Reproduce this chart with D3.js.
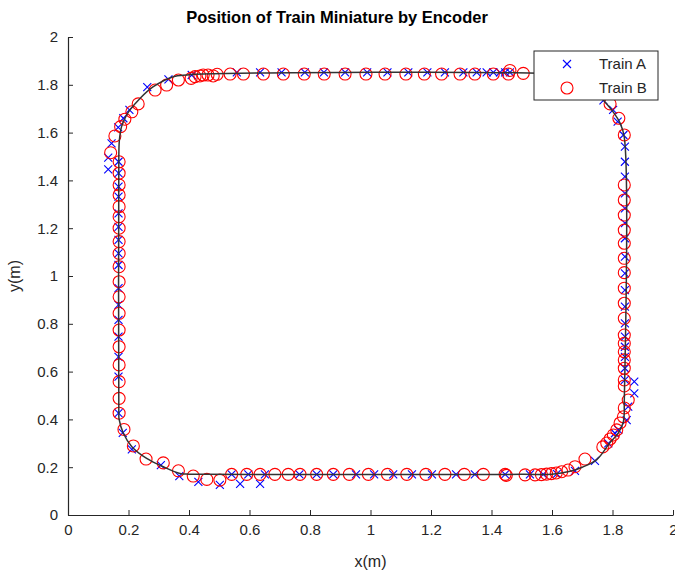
<!DOCTYPE html>
<html>
<head>
<meta charset="utf-8">
<title>Position of Train Miniature by Encoder</title>
<script src="https://d3js.org/d3.v7.min.js"></script>
<style>
  body { margin: 0; background: #fff; }
  svg { font-family: "Liberation Sans", Arial, sans-serif; }
  .axis path, .axis line { stroke: #262626; }
  .axis text { fill: #262626; font-size: 15px; }
</style>
</head>
<body>
<div id="chart"></div>
<script>
// track centre line
const trackX = [0.168, 0.168, 0.170, 0.177, 0.190, 0.205, 0.238, 0.282, 0.348, 0.392, 0.446, 1.60, 1.68, 1.73, 1.77, 1.80, 1.825, 1.839, 1.839, 1.836, 1.82, 1.79, 1.748, 1.70, 1.66, 1.60, 1.50, 0.45, 0.40, 0.37, 0.315, 0.26, 0.211, 0.183, 0.169, 0.168];
const trackY = [0.42, 1.50, 1.57, 1.625, 1.665, 1.695, 1.743, 1.792, 1.834, 1.841, 1.845, 1.845, 1.83, 1.79, 1.735, 1.69, 1.64, 1.58, 0.48, 0.39, 0.345, 0.30, 0.232, 0.200, 0.183, 0.171, 0.170, 0.170, 0.171, 0.174, 0.202, 0.237, 0.286, 0.342, 0.40, 0.42];

// Train A (blue x)
const trainAX = [
  0.167, 0.167, 0.167, 0.167, 0.167, 0.167, 0.167, 0.167, 0.167, 0.167, 0.167, 0.167, 0.167, 0.167, 0.167, 0.167,
  0.133, 0.133, 0.144,
  0.166, 0.183, 0.203, 0.262, 0.332, 0.409,
  0.558, 0.635, 0.706, 0.783, 0.846, 0.916, 0.989, 1.056, 1.125, 1.188, 1.246, 1.307, 1.351, 1.384, 1.406, 1.428, 1.445, 1.461,
  1.770, 1.802, 1.817, 1.836,
  1.841, 1.841, 1.841, 1.841, 1.841, 1.841, 1.841, 1.841, 1.841, 1.841, 1.841, 1.841, 1.841, 1.841, 1.841, 1.841, 1.841,
  1.872, 1.872, 1.852, 1.847,
  1.819, 1.808, 1.786, 1.742, 1.676,
  1.616, 1.571, 1.527, 1.445, 1.345, 1.283, 1.203, 1.137, 1.075, 1.012, 0.952, 0.877, 0.822, 0.765, 0.651, 0.596, 0.541,
  0.635, 0.569, 0.502, 0.431,
  0.368, 0.307, 0.211, 0.181
];
const trainAY = [
  1.478, 1.430, 1.374, 1.332, 1.262, 1.206, 1.151, 1.095, 1.046, 0.949, 0.879, 0.816, 0.746, 0.662, 0.579, 0.426,
  1.495, 1.446, 1.555,
  1.622, 1.660, 1.695, 1.790, 1.823, 1.841,
  1.852, 1.852, 1.852, 1.852, 1.852, 1.852, 1.852, 1.852, 1.852, 1.852, 1.852, 1.852, 1.852, 1.852, 1.852, 1.852, 1.852, 1.852,
  1.735, 1.695, 1.646, 1.590,
  1.541, 1.478, 1.416, 1.346, 1.283, 1.221, 1.158, 1.081, 1.011, 0.941, 0.872, 0.802, 0.746, 0.704, 0.662, 0.614, 0.565,
  0.558, 0.509, 0.453, 0.397,
  0.356, 0.342, 0.300, 0.226, 0.185,
  0.172, 0.170, 0.170, 0.170, 0.170, 0.170, 0.170, 0.170, 0.170, 0.170, 0.170, 0.170, 0.170, 0.170, 0.170, 0.170, 0.170,
  0.130, 0.130, 0.126, 0.139,
  0.163, 0.209, 0.275, 0.344
];

// Train B (red o)
const trainBX = [
  0.169, 0.169, 0.169, 0.169, 0.169, 0.169, 0.169, 0.169, 0.169, 0.169, 0.169, 0.169, 0.169, 0.169, 0.169, 0.169, 0.169, 0.169, 0.169,
  0.141, 0.155, 0.174, 0.188, 0.211, 0.232, 0.288, 0.326, 0.365, 0.407, 0.420, 0.436, 0.447, 0.463, 0.480, 0.493, 0.536, 0.580,
  0.646, 0.712, 0.781, 0.847, 0.916, 0.985, 1.048, 1.117, 1.178, 1.235, 1.296, 1.345, 1.406, 1.456, 1.461, 1.505,
  1.792, 1.821, 1.839,
  1.839, 1.839, 1.839, 1.839, 1.839, 1.839, 1.839, 1.839, 1.839, 1.839, 1.839, 1.839, 1.839, 1.839, 1.839, 1.839, 1.839,
  1.852, 1.839, 1.836, 1.825, 1.814, 1.803, 1.792, 1.781, 1.768, 1.709, 1.676, 1.653, 1.632, 1.614, 1.598, 1.582, 1.565, 1.544, 1.511,
  1.445, 1.449, 1.373, 1.310, 1.246, 1.183, 1.120, 1.056, 0.993, 0.930, 0.877, 0.822, 0.767, 0.728, 0.684, 0.635, 0.591, 0.541,
  0.502, 0.459, 0.414, 0.365, 0.315, 0.258, 0.216, 0.185
];
const trainBY = [
  1.478, 1.430, 1.381, 1.339, 1.290, 1.248, 1.200, 1.144, 1.095, 1.039, 0.976, 0.913, 0.844, 0.774, 0.704, 0.628, 0.558, 0.488, 0.426,
  1.516, 1.586, 1.625, 1.656, 1.687, 1.720, 1.778, 1.799, 1.820, 1.827, 1.834, 1.837, 1.841, 1.841, 1.837, 1.844, 1.845, 1.845,
  1.845, 1.845, 1.845, 1.845, 1.845, 1.845, 1.845, 1.845, 1.845, 1.845, 1.845, 1.845, 1.845, 1.845, 1.860, 1.848,
  1.720, 1.660, 1.590,
  1.381, 1.318, 1.255, 1.192, 1.137, 1.074, 1.014, 0.949, 0.886, 0.823, 0.753, 0.718, 0.683, 0.649, 0.614, 0.565, 0.540,
  0.481, 0.448, 0.411, 0.385, 0.356, 0.335, 0.318, 0.301, 0.285, 0.234, 0.202, 0.188, 0.181, 0.176, 0.173, 0.171, 0.169, 0.168, 0.168,
  0.170, 0.166, 0.170, 0.170, 0.170, 0.170, 0.170, 0.170, 0.170, 0.170, 0.170, 0.170, 0.170, 0.170, 0.170, 0.170, 0.170, 0.170,
  0.146, 0.149, 0.163, 0.185, 0.218, 0.234, 0.289, 0.358
];

const xTicks = [0, 0.2, 0.4, 0.6, 0.8, 1, 1.2, 1.4, 1.6, 1.8, 2];
const yTicks = [0, 0.2, 0.4, 0.6, 0.8, 1, 1.2, 1.4, 1.6, 1.8, 2];
const seriesNames = ["Train A", "Train B"];

const width = 675, height = 573;
const svg = d3.select("#chart").append("svg")
  .attr("width", width)
  .attr("height", height);

const x = d3.scaleLinear().domain([0, 2]).range([68, 673]);
const y = d3.scaleLinear().domain([0, 2]).range([515, 37]);

const fmt = d => d === 0 ? "0" : String(+d.toFixed(1));

svg.append("g")
  .attr("class", "axis")
  .attr("transform", `translate(0,${y(0)})`)
  .call(d3.axisBottom(x).tickValues(xTicks).tickFormat(fmt).tickSizeInner(-5).tickSizeOuter(0).tickPadding(9));

svg.append("g")
  .attr("class", "axis")
  .attr("transform", `translate(${x(0)},0)`)
  .call(d3.axisLeft(y).tickValues(yTicks).tickFormat(fmt).tickSizeInner(-5).tickSizeOuter(0).tickPadding(10));

svg.selectAll(".axis .domain").attr("stroke-width", 1.2);

// markers
const aData = trainAX.map((v, i) => [v, trainAY[i]]);
const bData = trainBX.map((v, i) => [v, trainBY[i]]);

const cross = (sel, s) => sel.attr("d", `M${-s},${-s}L${s},${s}M${-s},${s}L${s},${-s}`);

svg.append("g").selectAll("path")
  .data(aData)
  .join("path")
  .attr("transform", d => `translate(${x(d[0])},${y(d[1])})`)
  .call(cross, 4)
  .attr("stroke", "#0000ff")
  .attr("stroke-width", 1.1)
  .attr("fill", "none");

svg.append("g").selectAll("circle")
  .data(bData)
  .join("circle")
  .attr("cx", d => x(d[0]))
  .attr("cy", d => y(d[1]))
  .attr("r", 6)
  .attr("stroke", "#ff0000")
  .attr("stroke-width", 1.1)
  .attr("fill", "none");

// track line
const line = d3.line().x(d => x(d[0])).y(d => y(d[1])).curve(d3.curveCatmullRom);
svg.append("path")
  .datum(trackX.map((v, i) => [v, trackY[i]]))
  .attr("d", line)
  .attr("fill", "none")
  .attr("stroke", "#333")
  .attr("stroke-width", 1.5);

// title and labels
svg.append("text")
  .attr("x", 337).attr("y", 23)
  .attr("text-anchor", "middle")
  .attr("font-size", 16.5).attr("font-weight", "bold")
  .attr("fill", "#000")
  .text("Position of Train Miniature by Encoder");

svg.append("text")
  .attr("x", x(1)).attr("y", 567)
  .attr("text-anchor", "middle")
  .attr("font-size", 16).attr("fill", "#262626")
  .text("x(m)");

svg.append("text")
  .attr("transform", `translate(20,${y(1)}) rotate(-90)`)
  .attr("text-anchor", "middle")
  .attr("font-size", 16).attr("fill", "#262626")
  .text("y(m)");

// legend
const legend = svg.append("g");
legend.append("rect")
  .attr("x", 534).attr("y", 51)
  .attr("width", 124).attr("height", 49)
  .attr("fill", "#fff").attr("stroke", "#262626").attr("stroke-width", 1);

seriesNames.forEach((name, i) => {
  const ly = 64 + i * 24;
  if (i === 0) {
    legend.append("path")
      .attr("transform", `translate(567,${ly})`)
      .call(cross, 4)
      .attr("stroke", "#0000ff").attr("stroke-width", 1.1).attr("fill", "none");
  } else {
    legend.append("circle")
      .attr("cx", 567).attr("cy", ly).attr("r", 6)
      .attr("stroke", "#ff0000").attr("stroke-width", 1.1).attr("fill", "none");
  }
  legend.append("text")
    .attr("x", 599).attr("y", ly + 5)
    .attr("font-size", 15).attr("fill", "#262626")
    .text(name);
});
</script>
</body>
</html>
